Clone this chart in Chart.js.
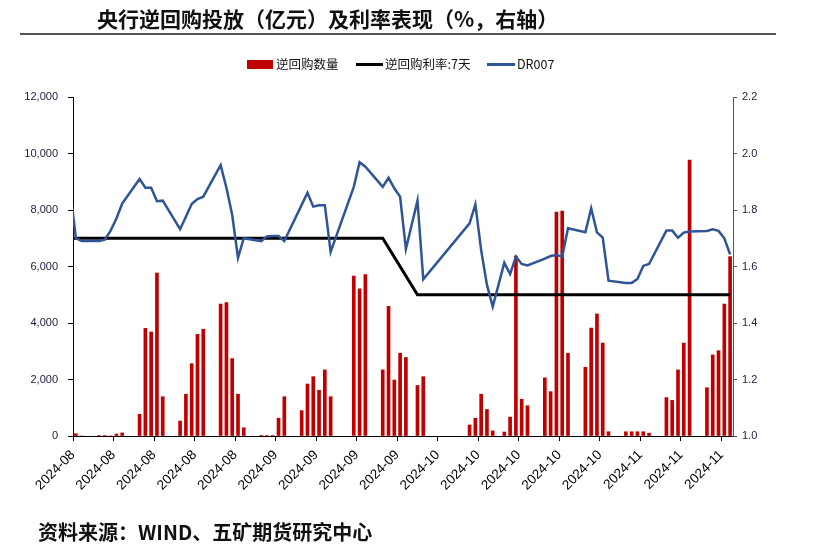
<!DOCTYPE html>
<html>
<head>
<meta charset="utf-8">
<script src="https://cdn.jsdelivr.net/npm/chart.js@4.4.1/dist/chart.umd.min.js"></script>
<style>
  html, body { margin: 0; padding: 0; background: #fff; }
  #wrap { position: relative; width: 830px; height: 551px; overflow: hidden; background: #fff; }
  #c { position: absolute; left: 0; top: 0; }
  .txt { position: absolute; white-space: nowrap; font-family: "Noto Sans CJK SC", "Noto Sans", sans-serif; color: #111; }
  #title { left: 97px; top: 4px; font-size: 21px; font-weight: 700; line-height: 28px; }
  #rule { position: absolute; left: 20px; top: 33px; width: 756px; height: 0; border-top: 2px solid #555; }
  #source { left: 38px; top: 518px; font-size: 20px; font-weight: 700; line-height: 28px; }
  .lg { position: absolute; }
  .lgt { font-size: 12.5px; line-height: 16px; top: 56px; color: #111; }
</style>
</head>
<body>
<div id="wrap">
  <canvas id="c" width="830" height="551"></canvas>
  <div class="txt" id="title">央行逆回购投放（亿元）及利率表现（%，右轴）</div>
  <div id="rule"></div>
  <div class="lg" style="left:247px;top:60px;width:26px;height:9px;background:#C00000;"></div>
  <div class="txt lgt" style="left:276px;">逆回购数量</div>
  <div class="lg" style="left:356px;top:63px;width:27px;height:3px;background:#000;"></div>
  <div class="txt lgt" style="left:385px;">逆回购利率:7天</div>
  <div class="lg" style="left:487px;top:63px;width:28px;height:3px;background:#2F5597;"></div>
  <div class="txt lgt" style="left:517px;">DR007</div>
  <div class="txt" id="source">资料来源：WIND、五矿期货研究中心</div>
</div>
<script>
// ---- data (trading days) ----
const dates = [
  '2024-07-31',
  '2024-08-01','2024-08-02','2024-08-05','2024-08-06','2024-08-07','2024-08-08','2024-08-09',
  '2024-08-12','2024-08-13','2024-08-14','2024-08-15','2024-08-16','2024-08-19','2024-08-20',
  '2024-08-21','2024-08-22','2024-08-23','2024-08-26','2024-08-27','2024-08-28','2024-08-29','2024-08-30',
  '2024-09-02','2024-09-03','2024-09-04','2024-09-05','2024-09-06','2024-09-09','2024-09-10',
  '2024-09-11','2024-09-12','2024-09-13','2024-09-14','2024-09-18','2024-09-19','2024-09-20',
  '2024-09-23','2024-09-24','2024-09-25','2024-09-26','2024-09-27','2024-09-29','2024-09-30',
  '2024-10-08','2024-10-09','2024-10-10','2024-10-11','2024-10-12','2024-10-14','2024-10-15',
  '2024-10-16','2024-10-17','2024-10-18','2024-10-21','2024-10-22','2024-10-23','2024-10-24',
  '2024-10-25','2024-10-28','2024-10-29','2024-10-30','2024-10-31',
  '2024-11-01','2024-11-04','2024-11-05','2024-11-06','2024-11-07','2024-11-08','2024-11-11',
  '2024-11-12','2024-11-13','2024-11-14','2024-11-15','2024-11-18','2024-11-19','2024-11-20',
  '2024-11-21','2024-11-22'
];
// 逆回购数量（亿元）
const repoAmount = [
  null,
  80, 0, 20, 20, 0, 70, 110,
  770, 3810, 3680, 5770, 1390, 530, 1480,
  2560, 3600, 3780, 4670, 4720, 2740, 1480, 290,
  20, 20, 20, 630, 1390, 900, 1840,
  2100, 1620, 2340, 1390, 5660, 5210, 5710,
  2340, 4590, 1980, 2930, 2780, 1790, 2100,
  390, 630, 1480, 940, 180, 140, 670,
  6370, 1300, 1070, 2060, 1570, 7930, 7960,
  2930, 2430, 3820, 4320, 3290,
  150, 150, 150, 150, 150, 100, 1360,
  1260, 2340, 3290, 9770, 1710, 2870, 3020,
  4670, 6350
];
// 逆回购利率:7天（%）
const repoRate = [
  1.7,
  1.7, 1.7, 1.7, 1.7, 1.7, 1.7, 1.7,
  1.7, 1.7, 1.7, 1.7, 1.7, 1.7, 1.7,
  1.7, 1.7, 1.7, 1.7, 1.7, 1.7, 1.7, 1.7,
  1.7, 1.7, 1.7, 1.7, 1.7, 1.7, 1.7,
  1.7, 1.7, 1.7, 1.7, 1.7, 1.7, 1.7,
  1.7, null, null, null, null, 1.5, 1.5,
  1.5, 1.5, 1.5, 1.5, 1.5, 1.5, 1.5,
  1.5, 1.5, 1.5, 1.5, 1.5, 1.5, 1.5,
  1.5, 1.5, 1.5, 1.5, 1.5,
  1.5, 1.5, 1.5, 1.5, 1.5, 1.5, 1.5,
  1.5, 1.5, 1.5, 1.5, 1.5, 1.5, 1.5,
  1.5, 1.5
];
// DR007（%）
const dr007 = [
  1.87,
  1.70, 1.69, 1.69, 1.695, 1.727, 1.77, 1.823,
  1.91, 1.879, 1.879, 1.831, 1.833, 1.732, 1.776,
  1.821, 1.839, 1.847, 1.959, 1.879, 1.782, 1.631, 1.70,
  1.69, 1.706, 1.708, 1.708, 1.69, 1.818, 1.861,
  1.812, 1.817, 1.817, 1.652, 1.882, 1.969, 1.953,
  1.882, 1.914, 1.877, 1.847, 1.662, 1.833, 1.555,
  1.753, 1.82, 1.658, 1.535, 1.458, 1.613, 1.573,
  1.635, 1.609, 1.604, 1.628, 1.637, 1.641, 1.635,
  1.735, 1.721, 1.806, 1.721, 1.702,
  1.55, 1.542, 1.542, 1.556, 1.602, 1.609, 1.727,
  1.727, 1.702, 1.72, 1.724, 1.726, 1.732, 1.726,
  1.70, 1.643
];
// tick labels
const xTickLabels = [
  '2024-08','2024-08','2024-08','2024-08','2024-08',
  '2024-09','2024-09','2024-09','2024-09',
  '2024-10','2024-10','2024-10','2024-10','2024-10',
  '2024-11','2024-11','2024-11'
];
const axisStart = '2024-08-01';
const axisDays = 114;       // 2024-08-01 .. 2024-11-22 (calendar days)
const tickEveryDays = 7;

// ---- build points on a calendar-day axis ----
const t0 = Date.parse(axisStart + 'T00:00:00Z');
const dayIdx = dates.map(s => Math.round((Date.parse(s + 'T00:00:00Z') - t0) / 86400000));
const pts = arr => dayIdx.map((d, i) => ({ x: d, y: arr[i] }));
const tickVals = xTickLabels.map((_, k) => -0.5 + k * tickEveryDays);

const TICK_COLOR = '#1c1c3c';
Chart.defaults.font.family = '"Liberation Sans", Arial, sans-serif';

new Chart(document.getElementById('c'), {
  data: {
    datasets: [
      { type: 'bar', label: '逆回购数量', data: pts(repoAmount), yAxisID: 'y', xAxisID: 'x',
        backgroundColor: '#C00000', barThickness: 3, order: 3 },
      { type: 'line', label: '逆回购利率:7天', data: pts(repoRate), yAxisID: 'y1', xAxisID: 'x',
        borderColor: '#000000', borderWidth: 3, pointRadius: 0, spanGaps: true, tension: 0, order: 2 },
      { type: 'line', label: 'DR007', data: pts(dr007), yAxisID: 'y1', xAxisID: 'x',
        borderColor: '#2F5597', borderWidth: 2.5, pointRadius: 0, tension: 0, order: 1 }
    ]
  },
  options: {
    responsive: false,
    animation: false,
    devicePixelRatio: 1,
    layout: { padding: { top: 97, left: 0, right: 0, bottom: 0 } },
    plugins: { legend: { display: false }, tooltip: { enabled: false } },
    scales: {
      x: {
        type: 'linear', min: -0.5, max: axisDays - 0.5, offset: false,
        afterBuildTicks: s => { s.ticks = tickVals.map(v => ({ value: v })); },
        afterFit: s => { s.height = 551 - 436; },
        ticks: {
          autoSkip: false, minRotation: 45, maxRotation: 45, padding: 6,
          color: '#000', font: { size: 13.5 },
          callback: (v, i) => xTickLabels[i]
        },
        grid: { offset: false, drawOnChartArea: false, drawTicks: true, tickLength: 5, color: '#000', lineWidth: 1 },
        border: { display: true, color: '#000', width: 1 }
      },
      y: {
        position: 'left', min: 0, max: 12000,
        afterBuildTicks: s => { s.ticks = [0, 2000, 4000, 6000, 8000, 10000, 12000].map(v => ({ value: v })); },
        afterFit: s => { s.width = 73; },
        ticks: { color: TICK_COLOR, font: { size: 11 }, padding: 10,
          callback: v => Number(v).toLocaleString('en-US') },
        grid: { drawOnChartArea: false, drawTicks: true, tickLength: 5, color: '#000' },
        border: { display: true, color: '#000', width: 1 }
      },
      y1: {
        position: 'right', min: 1.0, max: 2.2,
        afterBuildTicks: s => { s.ticks = [1.0, 1.2, 1.4, 1.6, 1.8, 2.0, 2.2].map(v => ({ value: v })); },
        afterFit: s => { s.width = 830 - 733; },
        ticks: { color: TICK_COLOR, font: { size: 11 }, padding: 5,
          callback: v => Number(v).toFixed(1) },
        grid: { drawOnChartArea: false, drawTicks: true, tickLength: 4, color: '#555' },
        border: { display: true, color: '#555', width: 1 }
      }
    }
  }
});
</script>
</body>
</html>
